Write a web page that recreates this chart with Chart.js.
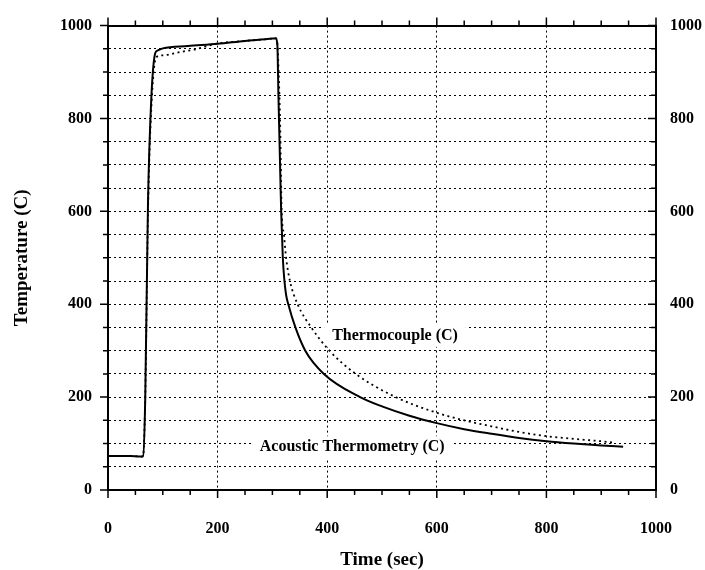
<!DOCTYPE html>
<html lang="en">
<head>
<meta charset="UTF-8">
<title>Temperature vs Time</title>
<style>
    body, html {
        margin: 0;
        padding: 0;
        background: #fff;
        overflow: hidden;
    }
    #wrap {
        width: 705px;
        height: 570px;
    }
</style>
</head>
<body>
<div id="wrap">
    <canvas id="myChart" width="705" height="570"></canvas>
</div>

<script src="https://cdn.jsdelivr.net/npm/chart.js"></script>
<script>

// Acoustic thermometry (solid line)
const acousticTime = [0, 20, 40, 60, 64, 68, 73, 79, 86, 90, 100, 146, 200, 250, 300, 306, 309, 311, 313, 316, 319, 322, 325, 329, 342, 360, 394, 460, 500, 550, 600, 650, 700, 750, 800, 850, 900, 940];
const acousticTemp = [73, 73, 73, 72, 73, 200, 620, 843, 940, 946, 951, 956, 961, 967, 972, 973, 960, 850, 750, 600, 500, 450, 420, 400, 350, 300, 250, 200, 180, 160, 144, 131, 121, 112, 105, 100, 96, 93];

// Thermocouple (dotted line)
const thermoTime = [0, 20, 40, 60, 64, 68, 73, 79, 88, 100, 131, 160, 198, 250, 300, 306, 309, 312, 314, 317, 321, 325, 332, 346, 371, 404, 452, 525, 598, 650, 700, 750, 800, 850, 900, 922];
const thermoTemp = [73, 73, 73, 72, 73, 200, 600, 820, 932, 936, 943, 949, 961, 967, 972, 973, 960, 880, 795, 600, 550, 500, 450, 400, 350, 300, 250, 200, 167, 150, 137, 125, 116, 110, 105, 102];

// in-plot captions
const captionText = ['Thermocouple (C)', 'Acoustic Thermometry (C)'];
const captionTime = [409, 277];
const captionTemp = [332, 92];

const axisMin = 0;
const axisMax = 1000;
const minorStep = 50;
const majorStep = 200;

const serif = '"Liberation Serif", "DejaVu Serif", serif';

function pairs(xs, ys) {
    return xs.map((t, i) => ({x: t, y: ys[i]}));
}

// tick marks on all four sides
const frameTicks = {
    id: 'frameTicks',
    afterDraw(chart) {
        const ctx = chart.ctx;
        const a = chart.chartArea;
        const x = chart.scales.x;
        const y = chart.scales.y;
        ctx.save();
        ctx.strokeStyle = '#000';
        ctx.lineWidth = 1.5;
        ctx.beginPath();
        for (let v = axisMin; v <= axisMax; v += minorStep) {
            const len = (v % majorStep === 0) ? 8 : 5;
            const px = x.getPixelForValue(v);
            ctx.moveTo(px, a.bottom); ctx.lineTo(px, a.bottom + len);
            ctx.moveTo(px, a.top); ctx.lineTo(px, a.top - len);
            const py = y.getPixelForValue(v);
            ctx.moveTo(a.left, py); ctx.lineTo(a.left - len, py);
            ctx.moveTo(a.right, py); ctx.lineTo(a.right - len, py);
        }
        ctx.stroke();
        ctx.restore();
    }
};

// captions with white box behind (hides the grid)
const captions = {
    id: 'captions',
    beforeDatasetsDraw(chart) {
        const ctx = chart.ctx;
        const x = chart.scales.x;
        const y = chart.scales.y;
        ctx.save();
        ctx.font = 'bold 16px ' + serif;
        ctx.textBaseline = 'middle';
        ctx.textAlign = 'left';
        captionText.forEach((txt, i) => {
            const px = x.getPixelForValue(captionTime[i]);
            const py = y.getPixelForValue(captionTemp[i]);
            const w = ctx.measureText(txt).width;
            ctx.fillStyle = '#fff';
            ctx.fillRect(px - 8, py - 11, w + 16, 22);
            ctx.fillStyle = '#000';
            ctx.fillText(txt, px, py);
        });
        ctx.restore();
    }
};

const tickFont = { family: serif, size: 16, weight: 'bold' };
const plainLabel = v => String(v);

const ctx = document.getElementById('myChart').getContext('2d');
new Chart(ctx, {
    type: 'line',
    data: {
        datasets: [
            {
                label: 'Acoustic Thermometry (C)',
                data: pairs(acousticTime, acousticTemp),
                borderColor: '#000',
                borderWidth: 2,
                pointRadius: 0,
                cubicInterpolationMode: 'monotone',
                fill: false
            },
            {
                label: 'Thermocouple (C)',
                data: pairs(thermoTime, thermoTemp),
                borderColor: '#000',
                borderWidth: 1.8,
                borderDash: [2, 3.5],
                pointRadius: 0,
                cubicInterpolationMode: 'monotone',
                fill: false
            }
        ]
    },
    options: {
        responsive: false,
        animation: false,
        layout: { padding: 0 },
        plugins: {
            legend: { display: false },
            tooltip: { enabled: false }
        },
        scales: {
            x: {
                type: 'linear',
                position: 'bottom',
                min: axisMin,
                max: axisMax,
                ticks: {
                    stepSize: majorStep,
                    padding: 29,
                    color: '#000',
                    font: tickFont,
                    callback: plainLabel
                },
                grid: { color: '#000', lineWidth: 1, drawTicks: false },
                border: { display: true, color: '#000', width: 2, dash: [2, 3] },
                title: {
                    display: true,
                    text: 'Time (sec)',
                    color: '#000',
                    padding: { top: 0, bottom: 0 },
                    font: { family: serif, size: 19, weight: 'bold', lineHeight: 1 }
                },
                afterFit(s) { s.height = 80; }
            },
            xTop: {
                type: 'linear',
                position: 'top',
                min: axisMin,
                max: axisMax,
                ticks: { display: false },
                grid: { display: false, drawTicks: false },
                border: { display: true, color: '#000', width: 2 },
                afterFit(s) { s.height = 23; }
            },
            y: {
                type: 'linear',
                position: 'left',
                min: axisMin,
                max: axisMax,
                ticks: {
                    stepSize: minorStep,
                    padding: 16,
                    color: '#000',
                    font: tickFont,
                    callback: v => (v % majorStep === 0 ? String(v) : '')
                },
                grid: { color: '#000', lineWidth: 1, drawTicks: false },
                border: { display: true, color: '#000', width: 2, dash: [2, 3] },
                title: {
                    display: true,
                    text: 'Temperature (C)',
                    color: '#000',
                    padding: { top: 11, bottom: 0 },
                    font: { family: serif, size: 19, weight: 'bold', lineHeight: 1.2 }
                },
                afterFit(s) { s.width = 108; }
            },
            yRight: {
                type: 'linear',
                position: 'right',
                min: axisMin,
                max: axisMax,
                ticks: {
                    stepSize: majorStep,
                    padding: 14,
                    color: '#000',
                    font: tickFont,
                    callback: plainLabel
                },
                grid: { drawOnChartArea: false, drawTicks: false },
                border: { display: true, color: '#000', width: 2 },
                afterFit(s) { s.width = 49; }
            }
        }
    },
    plugins: [captions, frameTicks]
});

</script>
</body>
</html>
